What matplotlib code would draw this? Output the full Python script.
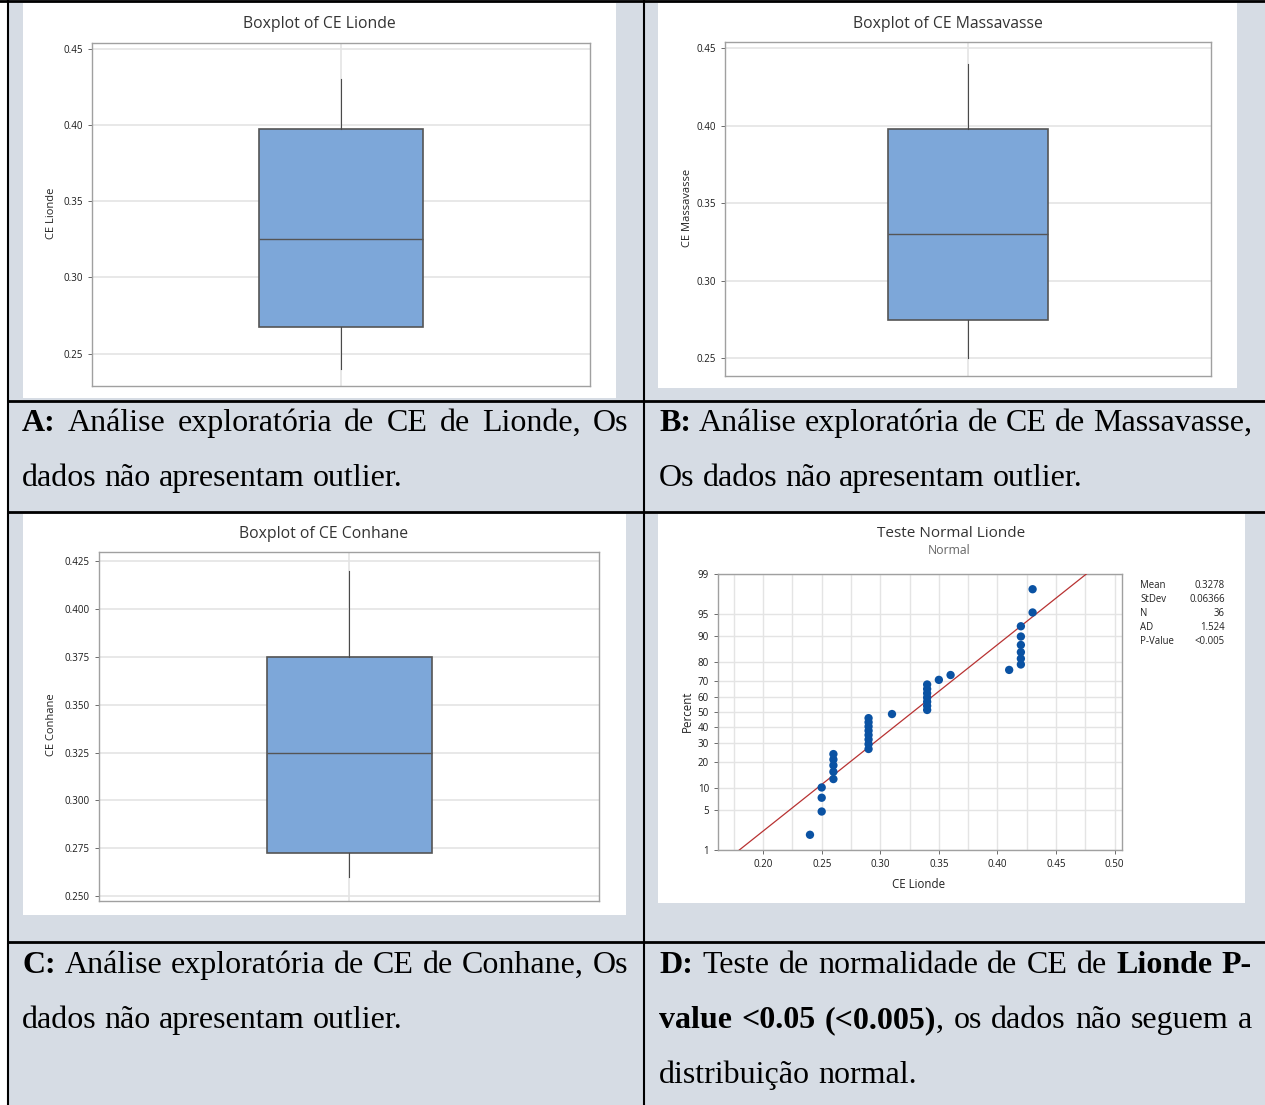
import numpy as np
import matplotlib
matplotlib.use("Agg")
import matplotlib.pyplot as plt
from matplotlib.patches import Rectangle
from matplotlib.lines import Line2D
from matplotlib.ticker import FixedLocator, NullFormatter
from statistics import NormalDist

W, H = 1265, 1105
BG = '#d6dce4'
BOX_FILL = '#7da7d9'
EDGE = '#555555'
GRID = '#e4e4e4'
SPINE = '#a0a0a0'
TXT = '#333333'
UI_FONT = 'Open Sans'
SERIF = 'Liberation Serif'

# boxplot summaries (CE)
box_sites = ['Lionde', 'Massavasse', 'Conhane']
box_lo = [0.24, 0.25, 0.26]
box_q1 = [0.2675, 0.275, 0.2725]
box_med = [0.325, 0.33, 0.325]
box_q3 = [0.3975, 0.3975, 0.375]
box_hi = [0.43, 0.44, 0.42]
box_yticks = [[0.25, 0.30, 0.35, 0.40, 0.45],
              [0.25, 0.30, 0.35, 0.40, 0.45],
              [0.250, 0.275, 0.300, 0.325, 0.350, 0.375, 0.400, 0.425]]
box_tickfmt = ['%.2f', '%.2f', '%.3f']

# CE Lionde sample for the normality plot
ce_lionde = [0.24, 0.25, 0.25, 0.25,
             0.26, 0.26, 0.26, 0.26, 0.26,
             0.29, 0.29, 0.29, 0.29, 0.29, 0.29, 0.29, 0.29,
             0.31,
             0.34, 0.34, 0.34, 0.34, 0.34, 0.34, 0.34,
             0.35, 0.36, 0.41,
             0.42, 0.42, 0.42, 0.42, 0.42, 0.42,
             0.43, 0.43]
pct_ticks = [1, 5, 10, 20, 30, 40, 50, 60, 70, 80, 90, 95, 99]
ce_xticks = [0.20, 0.25, 0.30, 0.35, 0.40, 0.45, 0.50]
ad_stat = '1.524'
p_value = '<0.005'

captions = [
    (22, 628, [431, 486], ["**A:** Análise exploratória de CE de Lionde, Os",
                           "dados não apresentam outlier."]),
    (659, 1252, [431, 486], ["**B:** Análise exploratória de CE de Massavasse,",
                             "Os dados não apresentam outlier."]),
    (22, 628, [973, 1028], ["**C:** Análise exploratória de CE de Conhane, Os",
                            "dados não apresentam outlier."]),
    (659, 1252, [973, 1028, 1083], ["**D:** Teste de normalidade de CE de **Lionde P-**",
                                    "**value <0.05 (<0.005)**, os dados não seguem a",
                                    "distribuição normal."]),
]

fig = plt.figure(figsize=(W / 100, H / 100), dpi=100)
fig.patch.set_facecolor('white')


def fx(x):
    return x / W


def fy(y):
    return 1 - y / H


def ax_px(x0, y0, x1, y1):
    return fig.add_axes([fx(x0), fy(y1), (x1 - x0) / W, (y1 - y0) / H])


def rect_px(x0, y0, x1, y1, color, z=0):
    fig.add_artist(Rectangle((fx(x0), fy(y1)), (x1 - x0) / W, (y1 - y0) / H,
                             transform=fig.transFigure, color=color, lw=0, zorder=z))


def line_px(x0, y0, x1, y1, lw=1.5):
    fig.add_artist(Line2D([fx(x0), fx(x1)], [fy(y0), fy(y1)], transform=fig.transFigure,
                          color='black', lw=lw, zorder=5))


def text_px(x, y, s, **kw):
    kw.setdefault('family', UI_FONT)
    kw.setdefault('color', TXT)
    return fig.text(fx(x), fy(y), s, **kw)


# table background, white chart panels and cell borders
rect_px(8, 0, W, H, BG, z=-2)
panels = [(23, 3, 616, 398), (658, 3, 1237, 388), (23, 514, 626, 915), (658, 514, 1245, 903)]
for p in panels:
    rect_px(*p, 'white', z=-1)
line_px(0, 1, W, 1, lw=2)
line_px(8, 0, 8, H)
line_px(644, 0, 644, H)
for yy in (401, 512, 942):
    line_px(8, yy, W, yy, lw=2)


def style_axes(ax):
    for s in ax.spines.values():
        s.set_color(SPINE)
        s.set_linewidth(1.0)
    ax.tick_params(colors='#555555', labelcolor='#1a1a1a', labelsize=7, length=3, width=0.6)
    for lab in ax.get_xticklabels() + ax.get_yticklabels():
        lab.set_family(UI_FONT)


# boxplots
box_frames = [(92, 43, 590, 386), (725, 42, 1211, 376), (99, 552, 599, 901)]
box_ylims = [(0.2288, 0.4537), (0.2386, 0.4539), (0.2474, 0.4299)]
box_titles = [(319, 24), (948, 24), (324, 534)]
box_ylab = [(51, 213), (687, 208), (52, 725)]
for i, site in enumerate(box_sites):
    ax = ax_px(*box_frames[i])
    stats = [{'med': box_med[i], 'q1': box_q1[i], 'q3': box_q3[i],
              'whislo': box_lo[i], 'whishi': box_hi[i], 'fliers': []}]
    ax.bxp(stats, positions=[1], widths=0.66, patch_artist=True, showcaps=False,
           boxprops=dict(facecolor=BOX_FILL, edgecolor=EDGE, linewidth=1.2),
           medianprops=dict(color=EDGE, linewidth=1.0),
           whiskerprops=dict(color='#4a4a4a', linewidth=0.8))
    ax.set_xlim(0, 2)
    ax.set_ylim(*box_ylims[i])
    ax.set_yticks(box_yticks[i])
    ax.set_yticklabels([box_tickfmt[i] % v for v in box_yticks[i]])
    ax.set_xticks([1])
    ax.set_xticklabels([])
    ax.grid(True, color=GRID, lw=1.2, zorder=0)
    ax.set_axisbelow(True)
    style_axes(ax)
    ax.tick_params(axis='x', length=0)
    text_px(*box_titles[i], 'Boxplot of CE ' + site, fontsize=11.3, ha='center', va='center')
    text_px(*box_ylab[i], 'CE ' + site, fontsize=8, rotation=90, ha='center', va='center',
            color='#222222')

# normal probability plot
nd = NormalDist()
vals = np.sort(np.array(ce_lionde))
n = len(vals)
ranks = np.arange(1, n + 1)
z_pts = np.array([nd.inv_cdf((r - 0.3) / (n + 0.4)) for r in ranks])
mean = vals.mean()
sd = vals.std(ddof=1)

ax = ax_px(718, 574, 1122, 850)
zlim = (nd.inv_cdf(0.01), nd.inv_cdf(0.99))
ax.set_ylim(*zlim)
ax.set_xlim(0.1615, 0.5063)
ax.plot([mean + zlim[0] * sd, mean + zlim[1] * sd], list(zlim), color='#b83232', lw=0.9, zorder=3)
ax.scatter(vals, z_pts, s=36, color='#0a52a3', edgecolors='none', zorder=4)
ax.set_yticks([nd.inv_cdf(p / 100) for p in pct_ticks])
ax.set_yticklabels([str(p) for p in pct_ticks])
ax.set_xticks(ce_xticks)
ax.set_xticklabels(['%.2f' % v for v in ce_xticks])
ax.xaxis.set_minor_locator(FixedLocator([0.175, 0.225, 0.275, 0.325, 0.375, 0.425, 0.475]))
ax.xaxis.set_minor_formatter(NullFormatter())
ax.grid(True, which='both', color=GRID, lw=1.0, zorder=0)
ax.set_axisbelow(True)
style_axes(ax)
ax.tick_params(axis='x', which='minor', length=0)
text_px(951, 533, 'Teste Normal Lionde', fontsize=11, ha='center', va='center')
text_px(949, 551, 'Normal', fontsize=8.8, ha='center', va='center', color='#666666')
text_px(919, 884, 'CE Lionde', fontsize=8.3, ha='center', va='center', color='#222222')
text_px(687, 711, 'Percent', fontsize=8.3, rotation=90, ha='center', va='center', color='#222222')

stat_rows = [('Mean', '%.4f' % mean), ('StDev', '%.5f' % sd), ('N', str(n)),
             ('AD', ad_stat), ('P-Value', p_value)]
for k, (lab, val) in enumerate(stat_rows):
    yy = 586 + 14 * k
    text_px(1140, yy, lab, fontsize=6.9, va='center', color='#222222')
    text_px(1225, yy, val, fontsize=6.9, va='center', ha='right', color='#222222')


# captions, justified word by word
def parse_line(line):
    runs = line.split('**')
    words = [[]]
    for i, run in enumerate(runs):
        bold = i % 2 == 1
        for j, piece in enumerate(run.split(' ')):
            if j > 0:
                words.append([])
            if piece:
                words[-1].append((piece, bold))
    return [w for w in words if w]


renderer = fig.canvas.get_renderer()
space = 0.25 * 23 * 100 / 72
for x0, x1, ys, lines in captions:
    for li, (line, yy) in enumerate(zip(lines, ys)):
        words = parse_line(line)
        placed = []
        for word in words:
            parts = []
            wsum = 0
            for s, bold in word:
                t = fig.text(0, 0, s, fontsize=23, family=SERIF, color='black',
                             weight='bold' if bold else 'normal', va='baseline')
                w = t.get_window_extent(renderer).width
                parts.append((t, w))
                wsum += w
            placed.append((parts, wsum))
        total = sum(w for _, w in placed)
        last = li == len(lines) - 1
        gap = space if last or len(placed) < 2 else (x1 - x0 - total) / (len(placed) - 1)
        x = x0
        for parts, wsum in placed:
            xx = x
            for t, w in parts:
                t.set_position((fx(xx), fy(yy)))
                xx += w
            x += wsum + gap

fig.savefig('out.png', dpi=100)
